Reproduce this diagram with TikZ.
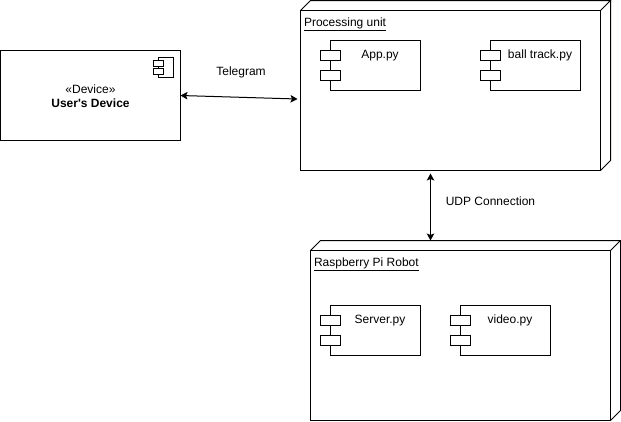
\documentclass[tikz,border=0pt]{standalone}
\usepackage{fontspec}
\setmainfont{Liberation Sans}[Ligatures=TeXOff]
\usetikzlibrary{arrows.meta}
\tikzset{
 devicebox/.style={draw, outer sep=0pt, minimum width=180pt, minimum height=90pt},
 unitbox/.style={draw, outer sep=0pt, minimum width=300pt},
 compbody/.style={draw, outer sep=0pt, minimum width=90pt, minimum height=50pt},
 comptab/.style={draw, fill=white, outer sep=0pt, minimum width=20pt, minimum height=10pt},
 icontab/.style={draw, fill=white, outer sep=0pt, minimum width=10pt, minimum height=5pt},
 iconbody/.style={draw, outer sep=0pt, minimum width=15pt, minimum height=20pt},
 note/.style={inner sep=0pt, outer sep=0pt}
}
\begin{document}
\begin{tikzpicture}[x=1pt, y=-1pt, line width=1pt, line join=miter, >={Stealth[length=7pt,width=7.5pt,inset=1.5pt]}, font=\fontsize{12}{14}\selectfont]
 \useasboundingbox (0,0) rectangle (621,421);
 % device
 \node[devicebox] (device) at (90.5,95.5) {};
 \node[note, align=center] (devicetext) at ([yshift=-1pt]device.center) {«Device»\\\textbf{User's Device}};
 \node[iconbody] (deviceicon) at (165.5,67.5) {};
 \node[icontab] (deviceicona) at (deviceicon.west|-0,63.5) {};
 \node[icontab] (deviceiconb) at (deviceicon.west|-0,71.5) {};
 % the two units
 \node[unitbox, minimum height=160pt] (unit) at (450.5,90.5) {};
 \node[unitbox, minimum height=170pt] (robot) at (460.5,335.5) {};
 \foreach \n in {unit,robot}{
 \draw (\n.north west)--([shift={(10,-10)}]\n.north west)--([shift={(10,-10)}]\n.north east)--(\n.north east);
 \draw ([shift={(10,-10)}]\n.north east)--([shift={(10,-10)}]\n.south east)--(\n.south east);
 }
 \node[note, anchor=west] (unittitle) at (304,24.5) {\underline{Processing unit}};
 \node[note, anchor=west] (robottitle) at (314,264.5) {\underline{Raspberry Pi Robot}};
 % components
 \foreach \n/\x/\y/\t in {app/375.5/65.5/App.py, ball/535.5/65.5/ball track.py, server/375.5/330.5/Server.py, video/505.5/330.5/video.py}{
 \node[compbody] (\n) at (\x,\y) {};
 \node[comptab] (\n a) at ([yshift=10pt]\n.west) {};
 \node[comptab] (\n b) at ([yshift=-10pt]\n.west) {};
 \node[note] (\n text) at ([xshift=4.5pt,yshift=-15pt]\n.north) {\t};
 }
 % connections
 \draw[<->] (device.east)--([xshift=-3pt,yshift=-8.5pt]unit.west);
 \draw[<->] ([xshift=-20pt,yshift=-3pt]unit.south)--([xshift=-30pt,yshift=10pt]robot.north);
 \node[note] (telegram) at (241,72) {Telegram};
 \node[note] (udp) at (490.5,201) {UDP Connection};
\end{tikzpicture}
\end{document}
